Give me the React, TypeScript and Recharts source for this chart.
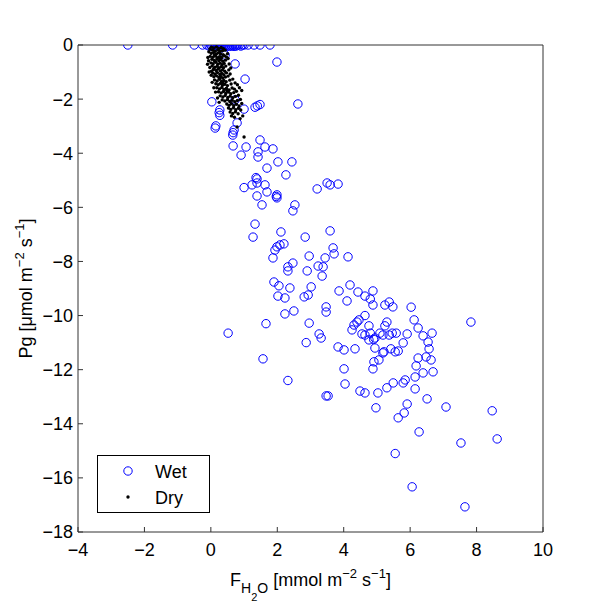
import React from 'react'
import { ScatterChart, Scatter, XAxis, YAxis, Legend } from 'recharts'

const FONT = '"Liberation Sans", Arial, Helvetica, sans-serif'

const xTicks = [-4, -2, 0, 2, 4, 6, 8, 10]
const yTicks = [-18, -16, -14, -12, -10, -8, -6, -4, -2, 0]

// wet points sitting on the Pg = 0 line
const wetZero: [number, number][] = [
  [-2.5, 0], [-1.15, 0], [-0.5, 0], [-0.25, 0], [-0.12, 0], [-0.05, -0.04], [0, 0],
  [0.03, -0.05], [0.06, 0], [0.1, -0.04], [0.13, 0], [0.16, -0.05], [0.2, 0], [0.23, -0.04],
  [0.26, 0], [0.3, -0.05], [0.33, 0], [0.36, -0.04], [0.4, 0], [0.43, -0.05], [0.46, 0],
  [0.5, -0.04], [0.53, 0], [0.56, -0.05], [0.6, 0], [0.63, -0.04], [0.66, 0], [0.7, -0.05],
  [0.73, 0], [0.76, -0.04], [0.8, 0], [0.85, 0], [0.9, -0.04], [0.95, 0], [1.0, 0],
  [1.12, 0], [1.3, 0], [1.48, 0], [1.78, 0],
]

const wetPoints: [number, number][] = [
  [1.99, -0.63], [0.73, -0.7], [0.43, -0.37], [1.03, -1.26], [0.03, -2.1], [0.27, -2.4],
  [0.25, -2.5], [0.27, -2.6], [0.73, -2.03], [1.0, -2.37], [1.33, -2.3], [1.4, -2.25],
  [1.48, -2.2], [2.62, -2.18], [0.79, -2.88], [0.15, -2.99], [0.13, -3.07], [0.7, -3.14],
  [0.67, -3.24], [0.66, -3.33], [1.48, -3.51], [0.67, -3.73], [1.06, -3.77], [1.63, -3.77],
  [1.87, -3.84], [1.42, -3.95], [1.42, -4.14], [0.91, -4.07], [2.02, -4.32], [2.44, -4.32],
  [1.69, -4.55], [2.26, -4.8], [1.36, -4.9],
  [1.0, -5.27], [1.24, -5.17], [1.39, -5.1], [1.39, -4.95], [1.63, -5.17], [1.69, -5.43],
  [1.39, -5.58], [1.99, -5.54], [1.97, -5.6], [1.99, -5.65], [1.54, -5.91], [2.53, -5.91],
  [2.47, -6.13], [3.2, -5.32], [3.5, -5.1], [3.59, -5.17], [3.83, -5.14], [1.33, -6.62],
  [1.27, -7.1], [2.11, -6.91], [2.84, -7.1], [3.59, -6.87], [1.99, -7.46], [1.93, -7.58],
  [2.08, -7.39], [2.2, -7.35], [1.87, -7.87], [2.96, -7.8], [3.44, -7.87], [3.68, -7.5],
  [3.71, -7.72], [4.13, -7.83], [2.47, -8.06], [2.32, -8.2], [2.32, -8.35], [2.9, -8.35],
  [3.23, -8.17], [3.38, -8.2], [3.35, -8.54], [1.9, -8.76], [2.05, -8.9], [2.38, -8.98],
  [3.02, -8.94], [2.93, -9.24], [2.81, -9.31], [2.02, -9.28], [2.23, -9.35], [3.86, -9.09],
  [4.19, -8.87], [4.1, -9.46], [2.23, -9.94], [2.5, -9.83], [3.47, -9.68], [3.47, -9.87],
  [4.43, -9.13], [4.64, -9.28], [4.8, -9.39], [4.88, -9.09], [4.88, -9.61], [4.64, -10.0],
  [5.24, -9.61], [5.37, -9.5], [5.48, -9.68], [1.66, -10.3], [0.52, -10.65], [2.96, -10.28],
  [3.26, -10.68], [3.32, -10.83], [2.87, -11.0], [4.25, -10.53], [4.31, -10.35], [4.4, -10.24],
  [4.46, -10.16], [4.76, -10.38], [5.3, -10.24], [5.24, -10.38], [4.55, -10.68], [4.64, -10.72],
  [4.8, -10.65], [4.94, -10.83], [5.09, -10.65], [5.18, -10.72], [5.37, -10.72], [5.46, -10.65],
  [5.58, -10.65], [4.76, -10.9], [4.9, -10.88],
  [1.57, -11.6], [2.32, -12.4], [3.47, -12.97], [3.53, -12.97], [3.83, -11.16], [4.01, -11.27],
  [4.34, -11.23], [4.01, -11.97], [4.04, -12.53], [4.49, -12.79], [4.64, -12.86], [5.03, -12.86],
  [4.97, -13.41], [5.3, -12.67], [5.49, -12.49], [5.79, -12.49], [5.85, -12.38], [6.15, -12.71],
  [5.64, -13.78], [5.82, -13.6], [5.91, -13.27], [6.51, -13.08], [6.27, -14.3], [7.08, -13.38],
  [8.47, -13.52], [7.53, -14.71], [8.62, -14.56], [5.55, -15.1], [7.83, -10.24], [6.03, -9.69],
  [6.12, -10.16], [6.24, -10.46], [6.39, -10.75], [6.54, -10.98], [6.66, -10.65], [6.57, -11.23],
  [6.24, -11.57], [6.48, -11.53], [6.63, -11.64], [6.18, -11.86], [6.39, -12.12], [6.69, -12.08],
  [6.15, -12.27], [5.79, -11.01], [5.91, -10.68], [4.94, -11.2], [5.18, -11.38], [5.21, -11.34],
  [5.42, -11.23], [5.55, -11.34], [5.64, -11.31], [4.91, -11.71], [5.06, -11.64], [4.88, -11.97],
  [6.06, -16.33], [7.65, -17.07],
]

const dryPoints: [number, number][] = [
  [0.02, -0.08], [0.09, -0.11], [0.17, -0.07], [0.24, -0.13], [0.31, -0.09], [0.38, -0.14], [-0.03, -0.15],
  [0.05, -0.19], [0.13, -0.23], [0.21, -0.18], [0.27, -0.24], [0.35, -0.21], [0.43, -0.19], [-0.06, -0.25],
  [0.01, -0.31], [0.08, -0.28], [0.16, -0.34], [0.22, -0.29], [0.29, -0.33], [0.37, -0.36], [0.11, -0.37],
  [-0.02, -0.42], [0.06, -0.45], [0.14, -0.41], [0.2, -0.47], [0.26, -0.43], [0.33, -0.46], [0.41, -0.4], [0.47, -0.44],
  [0.03, -0.53], [0.1, -0.57], [0.18, -0.52], [0.24, -0.58], [0.3, -0.54], [0.36, -0.6], [0.44, -0.56], [-0.07, -0.58],
  [0.0, -0.66], [0.07, -0.69], [0.15, -0.64], [0.21, -0.71], [0.28, -0.67], [0.34, -0.73], [0.4, -0.68],
  [0.04, -0.77], [0.12, -0.82], [0.19, -0.79], [0.25, -0.85], [0.31, -0.8], [0.38, -0.84], [0.45, -0.78], [-0.03, -0.83],
  [0.08, -0.91], [0.16, -0.94], [0.22, -0.89], [0.29, -0.96], [0.35, -0.92], [0.42, -0.97], [0.02, -0.97],
  [0.06, -1.04], [0.13, -1.07], [0.2, -1.02], [0.27, -1.09], [0.33, -1.05], [0.39, -1.1], [0.47, -1.03],
  [0.09, -1.17], [0.17, -1.14], [0.24, -1.2], [0.3, -1.16], [0.36, -1.22], [0.44, -1.18], [0.52, -1.15],
  [0.11, -1.29], [0.19, -1.33], [0.26, -1.27], [0.32, -1.35], [0.39, -1.31], [0.46, -1.36], [0.57, -1.3], [0.66, -1.26],
  [0.15, -1.43], [0.22, -1.47], [0.29, -1.42], [0.35, -1.49], [0.42, -1.45], [0.5, -1.5], [0.61, -1.44], [0.73, -1.4], [0.8, -1.47],
  [0.18, -1.58], [0.26, -1.62], [0.33, -1.57], [0.4, -1.64], [0.47, -1.6], [0.55, -1.66], [0.64, -1.59], [0.71, -1.63], [0.86, -1.58],
  [0.23, -1.73], [0.31, -1.77], [0.38, -1.72], [0.45, -1.79], [0.53, -1.74], [0.6, -1.8], [0.69, -1.76], [0.77, -1.71], [0.93, -1.68],
  [0.28, -1.88], [0.36, -1.92], [0.43, -1.87], [0.51, -1.94], [0.58, -1.89], [0.66, -1.95], [0.74, -1.9], [0.83, -1.86],
  [0.34, -2.03], [0.42, -2.07], [0.5, -2.02], [0.57, -2.09], [0.64, -2.04], [0.72, -2.1], [0.8, -2.05], [0.89, -2.01],
  [0.48, -2.18], [0.55, -2.23], [0.62, -2.17], [0.69, -2.24], [0.77, -2.19], [0.85, -2.25], [0.93, -2.16],
  [0.53, -2.33], [0.6, -2.38], [0.68, -2.32], [0.75, -2.39], [0.83, -2.34], [0.9, -2.4],
  [0.58, -2.48], [0.66, -2.53], [0.74, -2.47], [0.82, -2.54],
  [0.62, -2.62], [0.71, -2.67], [0.88, -2.72], [0.79, -3.03], [1.0, -3.4], [0.96, -2.62],
  [0.55, -0.7], [0.52, -0.5], [0.6, -0.85],
  [-0.09, -0.46], [-0.1, -0.71], [-0.05, -1.0], [0.01, -1.12], [0.04, -1.38], [0.09, -1.58],
  [0.5, -0.32], [0.54, -0.92], [0.58, -1.07], [0.14, -1.74], [0.2, -1.96], [0.25, -2.12],
  [0.13, -0.6], [0.27, -0.5], [0.09, -0.87], [0.36, -1.4], [0.28, -1.21], [0.48, -1.68],
]

const wetData = [...wetZero, ...wetPoints].map(([x, y]) => ({ x, y }))
const dryData = dryPoints.map(([x, y]) => ({ x, y }))

const fmt = (v: number) => (v < 0 ? '\u2212' + Math.abs(v) : String(v))
const tickStyle = { fill: '#000', fontSize: 18, fontFamily: FONT }
const axisColor = '#333'

function WetMarker(props: any) {
  return <circle cx={props.cx} cy={props.cy} r={4.2} fill="none" stroke="#0000ff" strokeWidth={1} />
}

function DryMarker(props: any) {
  return <circle cx={props.cx} cy={props.cy} r={1.7} fill="#000" />
}

function XLabel({ viewBox }: any) {
  const cx = viewBox.x + viewBox.width / 2
  const y = viewBox.y + 54
  return (
    <text x={cx} y={y} textAnchor="middle" fontFamily={FONT} fontSize={18} fill="#000">
      F
      <tspan fontSize={14} dy={7}>H</tspan>
      <tspan fontSize={11} dy={8}>2</tspan>
      <tspan fontSize={14} dy={-8}>O</tspan>
      <tspan fontSize={18} dy={-7}>{' [mmol m'}</tspan>
      <tspan fontSize={13} dy={-8}>{'\u22122'}</tspan>
      <tspan fontSize={18} dy={8}>{' s'}</tspan>
      <tspan fontSize={13} dy={-8}>{'\u22121'}</tspan>
      <tspan fontSize={18} dy={8}>]</tspan>
    </text>
  )
}

function YLabel({ viewBox }: any) {
  const cy = viewBox.y + viewBox.height / 2
  const x = viewBox.x + 32
  return (
    <text x={x} y={cy} transform={`rotate(-90 ${x} ${cy})`} textAnchor="middle" fontFamily={FONT} fontSize={18} fill="#000">
      {'Pg [\u03bcmol m'}
      <tspan fontSize={13} dy={-8}>{'\u22122'}</tspan>
      <tspan fontSize={18} dy={8}>{' s'}</tspan>
      <tspan fontSize={13} dy={-8}>{'\u22121'}</tspan>
      <tspan fontSize={18} dy={8}>]</tspan>
    </text>
  )
}

function LegendBox() {
  return (
    <svg width={113} height={58} style={{ display: 'block' }}>
      <rect x={0.5} y={0.5} width={112} height={57} fill="#fff" stroke="#000" />
      <circle cx={31} cy={16} r={4.2} fill="none" stroke="#0000ff" />
      <text x={58} y={22.5} fontFamily={FONT} fontSize={18} fill="#000">Wet</text>
      <circle cx={31} cy={42} r={1.7} fill="#000" />
      <text x={58} y={48.5} fontFamily={FONT} fontSize={18} fill="#000">Dry</text>
    </svg>
  )
}

export default function App() {
  return (
    <div style={{ position: 'absolute', left: 0, top: 0, background: '#fff' }}>
      <ScatterChart width={600} height={609} margin={{ top: 44, right: 56, bottom: 0, left: 0 }}>
        <XAxis
          type="number"
          dataKey="x"
          domain={[-4, 10]}
          ticks={xTicks}
          allowDataOverflow
          height={77}
          tickSize={-5}
          tickMargin={16}
          tickFormatter={fmt}
          tick={tickStyle}
          stroke={axisColor}
          label={<XLabel />}
        />
        <XAxis
          xAxisId="top"
          orientation="top"
          type="number"
          domain={[-4, 10]}
          ticks={xTicks}
          allowDataOverflow
          height={1}
          tickSize={-5}
          tick={false}
          stroke={axisColor}
        />
        <YAxis
          type="number"
          dataKey="y"
          domain={[-18, 0]}
          ticks={yTicks}
          allowDataOverflow
          width={78}
          tickSize={-5}
          tickMargin={10}
          tickFormatter={fmt}
          tick={tickStyle}
          stroke={axisColor}
          label={<YLabel />}
        />
        <YAxis
          yAxisId="right"
          orientation="right"
          type="number"
          domain={[-18, 0]}
          ticks={yTicks}
          allowDataOverflow
          width={1}
          tickSize={-5}
          tick={false}
          stroke={axisColor}
        />
        <Legend
          layout="horizontal"
          align="center"
          verticalAlign="middle"
          wrapperStyle={{ left: 97, top: 455, width: 113, height: 58 }}
          content={() => <LegendBox />}
        />
        <Scatter name="Wet" data={wetData} shape={<WetMarker />} isAnimationActive={false} />
        <Scatter name="Dry" data={dryData} shape={<DryMarker />} isAnimationActive={false} />
      </ScatterChart>
    </div>
  )
}
